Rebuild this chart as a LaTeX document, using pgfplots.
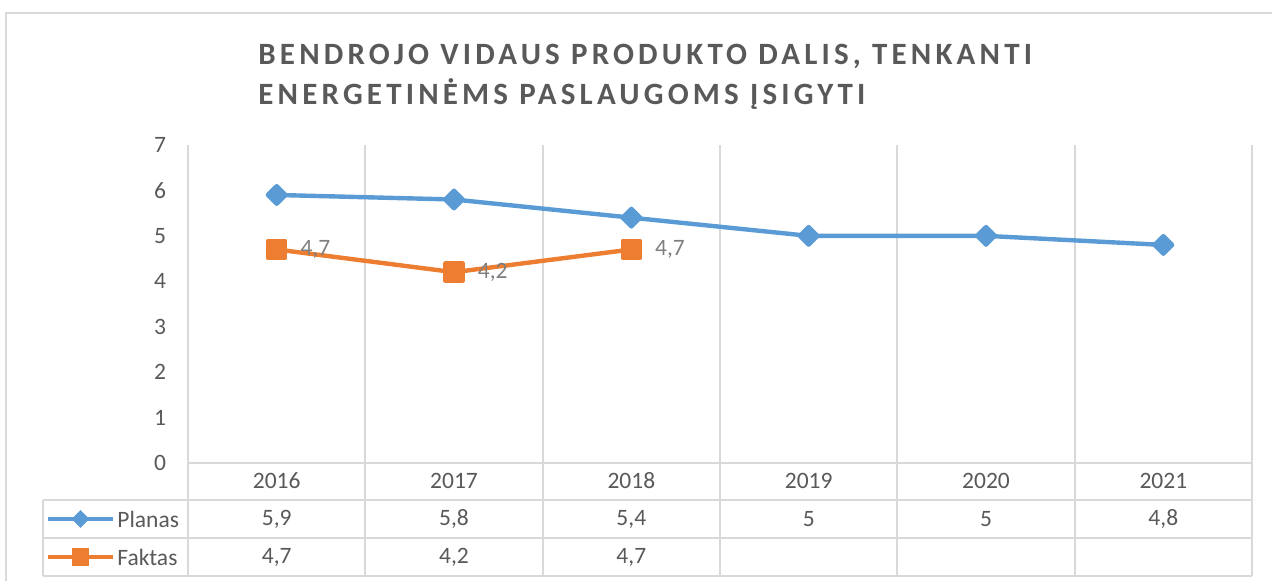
\documentclass[border=0pt]{standalone}
\usepackage{pgfplots}
\pgfplotsset{compat=1.18}
\usepackage{fontspec}
\setmainfont{Carlito}
\definecolor{txt}{HTML}{595959}
\definecolor{grd}{HTML}{D9D9D9}
\definecolor{blu}{HTML}{5B9BD5}
\definecolor{org}{HTML}{ED7D31}
\definecolor{lbl}{HTML}{7F7F7F}
\newcommand{\lblfont}{\fontsize{11.75}{14}\selectfont}
\newcommand{\ttlfont}{\fontsize{15.5}{18}\selectfont\bfseries\addfontfeatures{LetterSpace=13.5}}
\begin{document}
\begin{tikzpicture}
\useasboundingbox (0pt,0pt) rectangle (636pt,290.5pt);
\begin{axis}[
  at={(94pt,59pt)}, anchor=south west,
  scale only axis, width=532pt, height=159pt,
  xmin=-0.5, xmax=5.5, ymin=0, ymax=7,
  xtick={0,1,2,3,4,5},
  xticklabels={2016,2017,2018,2019,2020,2021},
  minor xtick={-0.5,0.5,1.5,2.5,3.5,4.5,5.5},
  xminorgrids, minor x grid style={grd, line width=1pt},
  ytick={0,1,2,3,4,5,6,7},
  axis line style={draw=none},
  major tick length=0pt, minor tick length=0pt,
  tick style={draw=none},
  /pgf/number format/assume math mode=true,
  yticklabel style={font=\lblfont, text=txt, anchor=east, xshift=-7.5pt},
  xticklabel style={font=\lblfont, text=txt, anchor=center, yshift=-9pt},
  clip=false,
]
\addplot[blu, line width=2.2pt, line join=round,
  mark=square*, mark size=3.1pt, mark options={rotate=45, draw=none, fill=blu}]
  coordinates {(0,5.9) (1,5.8) (2,5.4) (3,5) (4,5) (5,4.8)};
\addplot[org, line width=2.2pt, line join=round,
  mark=square*, mark size=4.3pt, mark options={draw=none, fill=org},
  nodes near coords, point meta=explicit symbolic,
  every node near coord/.style={anchor=west, text=lbl, font=\lblfont, xshift=7.5pt}]
  coordinates {(0,4.7) [{4,7}] (1,4.2) [{4,2}] (2,4.7) [{4,7}]};
\end{axis}
\begin{scope}[shift={(0pt,290.5pt)}, x=0.5pt, y=-0.5pt]
  % outer border
  \draw[grd, line width=1pt] (6,640) -- (6,13.5) -- (1290,13.5);
  % title
  \node[anchor=base west, inner sep=0pt, text=txt, font=\ttlfont] at (258,65) {BENDROJO VIDAUS PRODUKTO DALIS, TENKANTI};
  \node[anchor=base west, inner sep=0pt, text=txt, font=\ttlfont] at (258,104.5) {ENERGETINĖMS PASLAUGOMS ĮSIGYTI};
  % table lines
  \begin{scope}[grd, line width=1pt]
    \draw (188,463) -- (1252,463);
    \draw (43,500) -- (1252,500);
    \draw (43,538) -- (1252,538);
    \draw (43,576) -- (1252,576);
    \draw (43,500) -- (43,576);
    \foreach \xx in {188,365.3,542.7,720,897.3,1074.7,1252} {\draw (\xx,463) -- (\xx,576);}
  \end{scope}
  % legend keys
  \draw[blu, line width=2.2pt] (48,519) -- (113,519);
  \fill[blu] (80.5,519) ++(-4.4pt,0) -- ++(4.4pt,4.4pt) -- ++(4.4pt,-4.4pt) -- ++(-4.4pt,-4.4pt) -- cycle;
  \draw[org, line width=2.2pt] (48,557) -- (113,557);
  \fill[org] (80.5,557) ++(-4.3pt,-4.3pt) rectangle ++(8.6pt,8.6pt);
  \node[anchor=west, inner sep=0pt, text=txt, font=\lblfont] at (117,519) {Planas};
  \node[anchor=west, inner sep=0pt, text=txt, font=\lblfont] at (117,557) {Faktas};
  % values
  \foreach \xx/\v in {276.7/{5,9}, 454/{5,8}, 631.3/{5,4}, 808.7/5, 986/5, 1163.3/{4,8}}
    {\node[text=txt, font=\lblfont] at (\xx,519) {\v};}
  \foreach \xx/\v in {276.7/{4,7}, 454/{4,2}, 631.3/{4,7}}
    {\node[text=txt, font=\lblfont] at (\xx,557) {\v};}
\end{scope}
\end{tikzpicture}
\end{document}
